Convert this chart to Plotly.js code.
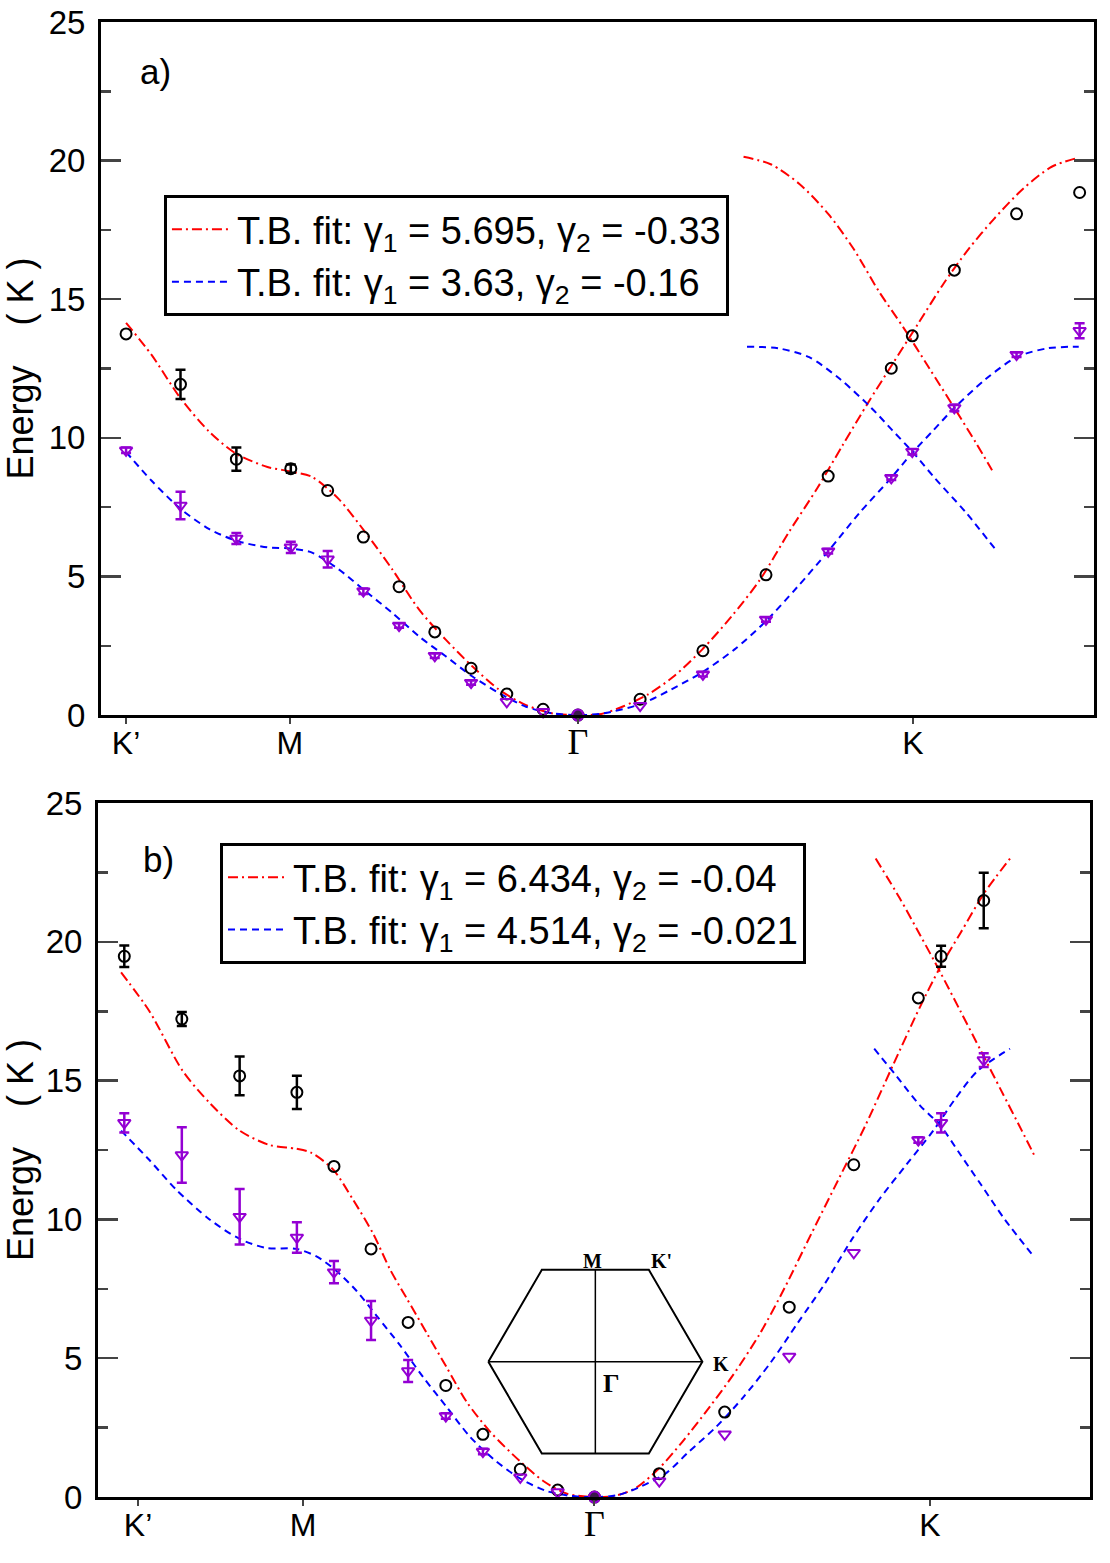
<!DOCTYPE html>
<html>
<head>
<meta charset="utf-8">
<script src="https://cdn.plot.ly/plotly-3.0.1.min.js"></script>
<style>
  body { margin: 0; background: white; }
  #chart { width: 1110px; height: 1563px; }
</style>
</head>
<body>
<div id="chart"></div>
<script>
// k along the path, Gamma = 0, M = -1 (units of Gamma-M)
var tickNames = ["K’", "M", "<span style='font-family:Liberation Serif;font-size:36px'>Γ</span>", "K"];
var tickA = [-1.569, -1.0, 0, 1.163];
var tickB = [-1.563, -0.998, 0, 1.149];

// panel a) data points
var kA = [-1.569, -1.38, -1.186, -0.997, -0.869, -0.745, -0.621, -0.497, -0.371, -0.247, -0.121, 0,
          0.216, 0.434, 0.653, 0.869, 1.088, 1.161, 1.307, 1.523, 1.742];
var circA = [13.75, 11.93, 9.23, 8.89, 8.10, 6.42, 4.63, 3.0, 1.69, 0.76, 0.21, 0,
             0.57, 2.32, 5.06, 8.62, 12.51, 13.68, 16.05, 18.08, 18.85];
var circAerr = [NaN, 0.53, 0.42, 0.15, NaN, NaN, NaN, NaN, NaN, NaN, NaN, NaN,
                NaN, NaN, NaN, NaN, NaN, NaN, NaN, NaN, NaN];
var triA = [9.55, 7.56, 6.37, 6.05, 5.62, 4.47, 3.23, 2.14, 1.17, 0.48, 0.12, 0,
            0.34, 1.47, 3.45, 5.91, 8.56, 9.5, 11.08, 13.0, 13.86];
var triAerr = [0.1, 0.5, 0.2, 0.2, 0.3, 0.1, 0.08, 0.08, 0.08, NaN, NaN, NaN,
               NaN, 0.08, 0.08, 0.08, 0.08, 0.1, 0.12, 0.08, 0.27];

// panel a) tight-binding fit curves
var redA_k = [-1.569, -1.481, -1.38, -1.28, -1.187, -1.078, -0.998, -0.923, -0.831, -0.738, -0.645, -0.552,
              -0.459, -0.366, -0.273, -0.18, -0.088, 0, 0.081, 0.156, 0.244, 0.331, 0.432, 0.532, 0.632,
              0.732, 0.832, 0.919, 1.007, 1.094, 1.182, 1.27, 1.357, 1.445, 1.545, 1.645, 1.732];
var redA_e = [14.15, 13.0, 11.43, 10.22, 9.43, 8.95, 8.79, 8.59, 7.8, 6.59, 5.26, 3.81,
              2.72, 1.75, 0.91, 0.36, 0.06, 0, 0.04, 0.31, 0.75, 1.38, 2.37, 3.54, 4.88,
              6.59, 8.2, 9.73, 11.26, 12.69, 14.13, 15.57, 16.82, 17.9, 18.98, 19.78, 20.09];
var redA2_k = [0.575, 0.669, 0.769, 0.869, 0.957, 1.044, 1.132, 1.22, 1.307, 1.382, 1.438];
var redA2_e = [20.14, 19.87, 19.16, 18.08, 16.82, 15.3, 13.95, 12.51, 11.08, 9.82, 8.83];
var blueA_k = [-1.569, -1.481, -1.38, -1.28, -1.187, -1.078, -0.998, -0.923, -0.831, -0.738, -0.645, -0.552,
               -0.459, -0.366, -0.273, -0.18, -0.088, 0, 0.081, 0.216, 0.325, 0.434, 0.544, 0.653, 0.761,
               0.869, 0.979, 1.088, 1.161, 1.234, 1.307, 1.416, 1.523, 1.63, 1.739];
var blueA_e = [9.49, 8.46, 7.44, 6.71, 6.29, 6.05, 6.01, 5.86, 5.26, 4.47, 3.69, 2.84,
               2.12, 1.39, 0.79, 0.3, 0.06, 0, 0.05, 0.39, 0.93, 1.56, 2.37, 3.39, 4.61,
               5.91, 7.31, 8.56, 9.46, 10.27, 11.08, 12.12, 12.91, 13.23, 13.29];
var blueA2_k = [0.587, 0.696, 0.803, 0.91, 1.019, 1.092, 1.165, 1.238, 1.347, 1.451];
var blueA2_e = [13.29, 13.23, 12.91, 12.12, 11.08, 10.27, 9.46, 8.56, 7.31, 5.96];

// panel b) data points
var kB = [-1.61, -1.413, -1.215, -1.019, -0.892, -0.765, -0.638, -0.509, -0.382, -0.254, -0.126, 0,
          0.222, 0.446, 0.667, 0.888, 1.109, 1.187, 1.333];
var circB = [19.48, 17.22, 15.17, 14.58, 11.91, 8.94, 6.29, 4.02, 2.26, 1.0, 0.25, 0,
             0.84, 3.06, 6.84, 11.97, 17.98, 19.48, 21.49];
var circBerr = [0.39, 0.25, 0.7, 0.6, NaN, NaN, NaN, NaN, NaN, NaN, NaN, NaN,
                NaN, NaN, NaN, NaN, NaN, 0.38, 1.0];
var triB = [13.48, 12.32, 10.1, 9.35, 8.1, 6.36, 4.54, 2.92, 1.64, 0.71, 0.18, 0,
            0.57, 2.26, 5.06, 8.80, 12.86, 13.48, 15.74];
var triBerr = [0.35, 1.0, 1.0, 0.55, 0.4, 0.7, 0.4, 0.1, 0.1, NaN, NaN, NaN,
               NaN, NaN, NaN, NaN, 0.1, 0.35, 0.25];

// panel b) fit curves
var redB_k = [-1.621, -1.524, -1.41, -1.318, -1.215, -1.112, -1.021, -0.969, -0.895, -0.826, -0.757, -0.700,
              -0.643, -0.574, -0.506, -0.437, -0.357, -0.254, -0.174, -0.094, 0, 0.068, 0.138, 0.219,
              0.301, 0.394, 0.475, 0.568, 0.650, 0.742, 0.835, 0.928, 1.021, 1.115, 1.184, 1.254, 1.335, 1.423];
var redB_e = [18.9, 17.5, 15.35, 14.2, 13.2, 12.68, 12.55, 12.4, 11.8, 10.7, 9.47, 8.2,
              7.16, 5.9, 4.67, 3.42, 2.35, 1.28, 0.57, 0.12, 0, 0.04, 0.3, 1.01,
              1.99, 3.24, 4.4, 5.91, 7.51, 9.47, 11.43, 13.39, 15.53, 17.66, 19.09, 20.33, 21.76, 23.0];
var redB2_k = [0.963, 1.045, 1.115, 1.184, 1.254, 1.324, 1.393, 1.463, 1.510];
var redB2_e = [23.0, 21.58, 20.25, 18.91, 17.49, 16.06, 14.64, 13.21, 12.23];
var blueB_k = [-1.621, -1.524, -1.432, -1.318, -1.215, -1.124, -1.021, -0.952, -0.883, -0.815, -0.746, -0.666,
               -0.586, -0.506, -0.426, -0.346, -0.254, -0.162, -0.082, 0, 0.080, 0.161, 0.243, 0.324,
               0.417, 0.510, 0.603, 0.696, 0.789, 0.882, 0.975, 1.068, 1.161, 1.231, 1.312, 1.423];
var blueB_e = [13.2, 12.14, 11.07, 10.0, 9.3, 8.97, 8.94, 8.67, 8.14, 7.43, 6.53, 5.47,
               4.31, 3.24, 2.17, 1.37, 0.66, 0.21, 0.04, 0, 0.07, 0.39, 0.84, 1.64,
               2.53, 3.6, 4.84, 6.27, 7.69, 9.29, 10.72, 11.97, 13.21, 14.28, 15.35, 16.15];
var blueB2_k = [0.958, 1.034, 1.115, 1.184, 1.254, 1.324, 1.405, 1.504];
var blueB2_e = [16.15, 15.17, 14.1, 13.39, 12.32, 11.25, 10.0, 8.67];

// inset: hexagonal Brillouin zone
var hexX = [-1, -0.5, 0.5, 1, 0.5, -0.5, -1];
var hexY = [0, 0.866, 0.866, 0, -0.866, -0.866, 0];

var RED = "#ff0000", BLUE = "#0000ff", PURPLE = "#9400d3";
var redDash = "10px,4px,2px,4px", blueDash = "7px,5px";

function curve(xs, ys, color, dash, xa, ya, name, leg) {
    return {
        x: xs, y: ys, xaxis: xa, yaxis: ya, type: "scatter", mode: "lines",
        line: {color: color, width: 2, dash: dash, shape: "spline", smoothing: 0.8},
        name: name || "", showlegend: !!name, legend: leg, hoverinfo: "skip"
    };
}
function points(xs, ys, err, color, symbol, xa, ya) {
    return {
        x: xs, y: ys, xaxis: xa, yaxis: ya, type: "scatter", mode: "markers",
        cliponaxis: false, showlegend: false, hoverinfo: "skip",
        marker: {symbol: xs.map(k => k === 0 ? "circle" : symbol), size: 11,
                 color: xs.map(k => k === 0 ? "#3a1a4a" : color), line: {color: color, width: 2}},
        error_y: {type: "data", array: err, color: color, thickness: 2.5, width: 5}
    };
}

var data = [
    curve(redA_k, redA_e, RED, redDash, "x", "y", "T.B. fit: γ<sub>1</sub> = 5.695, γ<sub>2</sub> = -0.33", "legend"),
    curve(redA2_k, redA2_e, RED, redDash, "x", "y"),
    curve(blueA_k, blueA_e, BLUE, blueDash, "x", "y", "T.B. fit: γ<sub>1</sub> = 3.63, γ<sub>2</sub> = -0.16", "legend"),
    curve(blueA2_k, blueA2_e, BLUE, blueDash, "x", "y"),
    points(kA, circA, circAerr, "black", "circle-open", "x", "y"),
    points(kA, triA, triAerr, PURPLE, "triangle-down-open", "x", "y"),

    curve(redB_k, redB_e, RED, redDash, "x2", "y2", "T.B. fit: γ<sub>1</sub> = 6.434, γ<sub>2</sub> = -0.04", "legend2"),
    curve(redB2_k, redB2_e, RED, redDash, "x2", "y2"),
    curve(blueB_k, blueB_e, BLUE, blueDash, "x2", "y2", "T.B. fit: γ<sub>1</sub> = 4.514, γ<sub>2</sub> = -0.021", "legend2"),
    curve(blueB2_k, blueB2_e, BLUE, blueDash, "x2", "y2"),
    points(kB, circB, circBerr, "black", "circle-open", "x2", "y2"),
    points(kB, triB, triBerr, PURPLE, "triangle-down-open", "x2", "y2"),

    {x: hexX, y: hexY, xaxis: "x3", yaxis: "y3", mode: "lines", line: {color: "black", width: 2},
     showlegend: false, hoverinfo: "skip"},
    {x: [-1, 1, null, 0, 0], y: [0, 0, null, -0.866, 0.866], xaxis: "x3", yaxis: "y3", mode: "lines",
     line: {color: "black", width: 1.5}, showlegend: false, hoverinfo: "skip"}
];

function xAxis(dom, range, ticks, anchor) {
    return {
        domain: dom, range: range, anchor: anchor, tickmode: "array", tickvals: ticks, ticktext: tickNames,
        ticks: "outside", ticklen: 6, tickwidth: 2, showline: true, linewidth: 3, linecolor: "black",
        mirror: true, showgrid: false, zeroline: false, tickfont: {size: 32}, ticklabelstandoff: -8,
        automargin: false
    };
}
function yAxis(dom, anchor) {
    return {
        domain: dom, range: [0, 25], anchor: anchor, dtick: 5, ticks: "inside", ticklen: 20, tickwidth: 2.5,
        minor: {dtick: 2.5, ticks: "inside", ticklen: 10, tickwidth: 2.5},
        showline: true, linewidth: 3, linecolor: "black", mirror: "ticks", showgrid: false, zeroline: false,
        tickfont: {size: 33}, ticklabelstandoff: 6, automargin: false,
        title: {text: "Energy\u00a0\u00a0\u00a0\u00a0( K )", font: {size: 36}, standoff: 8}
    };
}

var legendBase = {
    xanchor: "left", yanchor: "top", bgcolor: "white", bordercolor: "black", borderwidth: 3,
    font: {size: 38, color: "black"}, itemwidth: 60, tracegroupgap: 0
};

var layout = {
    width: 1110, height: 1563,
    margin: {l: 0, r: 0, t: 0, b: 0},
    paper_bgcolor: "white", plot_bgcolor: "rgba(0,0,0,0)",
    font: {family: "Liberation Sans, Arial, sans-serif", color: "black"},
    xaxis: xAxis([0.0910, 0.9856], [-1.656, 1.792], tickA, "y"),
    yaxis: yAxis([0.5425, 0.9859], "x"),
    xaxis2: xAxis([0.0883, 0.9820], [-1.700, 1.697], tickB, "y2"),
    yaxis2: yAxis([0.0422, 0.4862], "x2"),
    xaxis3: {domain: [0.4014, 0.6713], range: [-1.4, 1.4], anchor: "y3", visible: false},
    yaxis3: {domain: [0.0474, 0.2102], range: [-1.2, 1.2], anchor: "x3", visible: false},
    legend: Object.assign({x: 0.1477, y: 0.8752}, legendBase),
    legend2: Object.assign({x: 0.1982, y: 0.4607}, legendBase),
    annotations: [
        {text: "a)", x: 155 / 1110, y: 1 - 72 / 1563, xref: "paper", yref: "paper", showarrow: false,
         xanchor: "center", yanchor: "middle", font: {size: 35}},
        {text: "b)", x: 158 / 1110, y: 1 - 860 / 1563, xref: "paper", yref: "paper", showarrow: false,
         xanchor: "center", yanchor: "middle", font: {size: 35}},
        {text: "<b>M</b>", x: -0.03, y: 0.83, xref: "x3", yref: "y3", showarrow: false, yanchor: "bottom",
         font: {family: "Liberation Serif", size: 20}},
        {text: "<b>K'</b>", x: 0.62, y: 0.83, xref: "x3", yref: "y3", showarrow: false, yanchor: "bottom",
         font: {family: "Liberation Serif", size: 20}},
        {text: "<b>K</b>", x: 1.08, y: -0.02, xref: "x3", yref: "y3", showarrow: false, xanchor: "left",
         font: {family: "Liberation Serif", size: 20}},
        {text: "<b>Γ</b>", x: 0.05, y: -0.05, xref: "x3", yref: "y3", showarrow: false, xanchor: "left", yanchor: "top",
         font: {family: "Liberation Serif", size: 26}}
    ]
};

Plotly.newPlot("chart", data, layout, {staticPlot: true});
</script>
</body>
</html>
